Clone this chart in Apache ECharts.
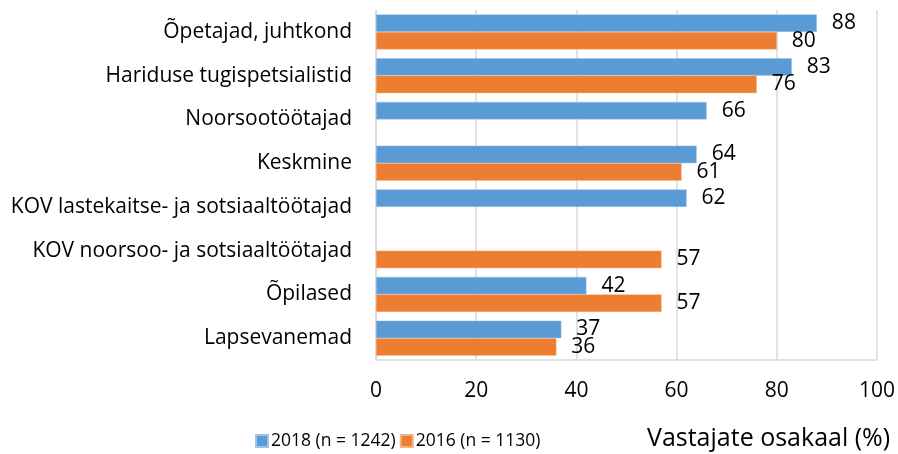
<!DOCTYPE html>
<html><head><meta charset="utf-8">
<script src="https://cdn.jsdelivr.net/npm/echarts@6/dist/echarts.min.js"></script>
<style>html,body{margin:0;padding:0;background:#fff}#c{width:898px;height:454px}</style>
</head><body><div id="c"></div>
<script>
const categories = ["Õpetajad, juhtkond","Hariduse tugispetsialistid","Noorsootöötajad","Keskmine","KOV lastekaitse- ja sotsiaaltöötajad","KOV noorsoo- ja sotsiaaltöötajad","Õpilased","Lapsevanemad"];
const values2018 = [88, 83, 66, 64, 62, null, 42, 37];
const values2016 = [80, 76, null, 61, null, 57, 57, 36];
const seriesNames = ["2018 (n = 1242)", "2016 (n = 1130)"];
const xTicks = [0, 20, 40, 60, 80, 100];
const axisTitle = "Vastajate osakaal (%)";

const FONT = "Open Sans";
const chart = echarts.init(document.getElementById('c'));
const lbl = {show:true, position:'right', distance:15, color:'#000', fontFamily:FONT, fontSize:21};
chart.setOption({
  animation:false,
  textStyle:{fontFamily:FONT},
  grid:{left:376, right:20, top:10, bottom:94},
  title:{text:axisTitle, left:647, top:426, padding:0, textStyle:{fontFamily:FONT, fontSize:25, fontWeight:'normal', color:'#000'}},
  legend:{left:250, top:432, padding:[0,5], itemWidth:12, itemHeight:12, itemGap:4, icon:'rect',
    textStyle:{fontFamily:FONT, fontSize:17.5, color:'#000', padding:[0,0,0,-2]}, data:seriesNames},
  xAxis:{type:'value', min:xTicks[0], max:xTicks[xTicks.length-1], interval:20,
    axisLine:{show:true, lineStyle:{color:'#d9d9d9', width:1.5}}, axisTick:{show:false},
    axisLabel:{fontFamily:FONT, fontSize:21, color:'#000', margin:21},
    splitLine:{lineStyle:{color:'#d9d9d9', width:1.5}}},
  yAxis:{type:'category', data:categories, inverse:true,
    axisLine:{show:true, lineStyle:{color:'#d9d9d9', width:1.5}}, axisTick:{show:false},
    axisLabel:{fontFamily:FONT, fontSize:21, color:'#000', margin:24}},
  series:[
    {name:seriesNames[0], type:'bar', data:values2018, barGap:'0%', barCategoryGap:'20%',
     itemStyle:{color:'#5B9BD5', borderColor:'#9dc3e6', borderWidth:0.5}, label:lbl},
    {name:seriesNames[1], type:'bar', data:values2016, barGap:'0%', barCategoryGap:'20%',
     itemStyle:{color:'#ED7D31', borderColor:'#f4b183', borderWidth:0.5}, label:lbl}
  ]
});
</script></body></html>
